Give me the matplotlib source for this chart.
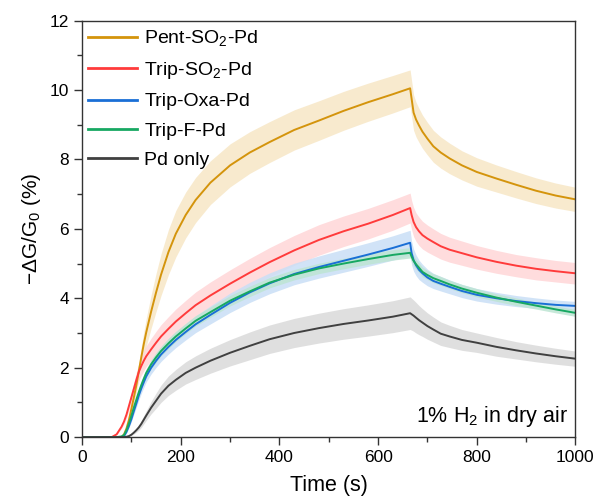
import matplotlib
matplotlib.use("Agg")
import matplotlib.pyplot as plt
from matplotlib.ticker import MultipleLocator
import numpy as np

plt.rcParams['font.family'] = ['Liberation Sans', 'DejaVu Sans']
plt.rcParams['mathtext.fontset'] = 'custom'
plt.rcParams['mathtext.rm'] = 'Liberation Sans'
plt.rcParams['mathtext.it'] = 'Liberation Sans:italic'
plt.rcParams['mathtext.bf'] = 'Liberation Sans:bold'

time_s = [0, 60, 70, 80, 85, 90, 95, 100, 105, 110, 115, 120, 125, 130, 140, 150, 160, 175, 190, 210,
          230, 260, 300, 340, 380, 430, 480, 530, 580, 630, 665,
          668, 672, 677, 683, 690, 700, 712, 727, 745, 770, 800, 840, 880, 920, 960, 1000]

labels = ["Pent-SO$_2$-Pd", "Trip-SO$_2$-Pd", "Trip-Oxa-Pd", "Trip-F-Pd", "Pd only"]

pent_so2 = [0, 0, 0, 0, 0.08, 0.25, 0.5, 0.82, 1.15, 1.5, 1.9, 2.3, 2.68, 3.02, 3.62, 4.17, 4.68, 5.33, 5.86, 6.4,
            6.83, 7.33, 7.83, 8.2, 8.5, 8.85, 9.12, 9.4, 9.65, 9.88, 10.05,
            9.75, 9.35, 9.15, 8.98, 8.8, 8.6, 8.38, 8.2, 8.03, 7.83, 7.64, 7.45, 7.27, 7.1, 6.96, 6.85]
trip_so2 = [0, 0, 0.08, 0.3, 0.45, 0.65, 0.9, 1.15, 1.4, 1.65, 1.88, 2.05, 2.2, 2.33, 2.53, 2.72, 2.9, 3.12, 3.33, 3.57,
            3.8, 4.08, 4.42, 4.74, 5.04, 5.38, 5.68, 5.93, 6.15, 6.4, 6.6,
            6.4, 6.2, 6.05, 5.93, 5.82, 5.72, 5.62, 5.5, 5.4, 5.3, 5.18, 5.05, 4.94, 4.85, 4.78, 4.72]
trip_oxa = [0, 0, 0, 0, 0.03, 0.15, 0.32, 0.52, 0.75, 0.97, 1.2, 1.4, 1.58, 1.75, 2.0, 2.2, 2.38, 2.6, 2.8, 3.03,
            3.25, 3.52, 3.87, 4.17, 4.43, 4.7, 4.9, 5.08, 5.26, 5.45, 5.6,
            5.3, 5.1, 4.95, 4.82, 4.72, 4.6, 4.5, 4.42, 4.33, 4.21, 4.1, 4.0, 3.92, 3.86, 3.81, 3.78]
trip_f = [0, 0, 0, 0.02, 0.06, 0.2, 0.4, 0.62, 0.86, 1.08, 1.3, 1.5, 1.68, 1.85, 2.1, 2.3, 2.48, 2.7, 2.9, 3.13,
          3.35, 3.6, 3.93, 4.2, 4.45, 4.68, 4.86, 5.0, 5.13, 5.25, 5.31,
          5.2, 5.08, 4.98, 4.88, 4.76, 4.67, 4.58, 4.5, 4.4, 4.28, 4.16, 4.02, 3.9, 3.79, 3.68, 3.58]
pd_only = [0, 0, 0, 0, 0, 0.01, 0.03, 0.07, 0.13, 0.2, 0.28, 0.38, 0.5, 0.62, 0.85, 1.05, 1.25, 1.48, 1.65, 1.85,
           2.0, 2.2, 2.43, 2.63, 2.82, 3.0, 3.14, 3.26, 3.36, 3.47, 3.57,
           3.54, 3.5, 3.44, 3.37, 3.3, 3.2, 3.1, 2.98, 2.9, 2.8, 2.72, 2.6, 2.5, 2.41, 2.33, 2.26]

pent_err = [0, 0, 0, 0, 0.02, 0.05, 0.08, 0.12, 0.15, 0.2, 0.25, 0.3, 0.35, 0.4, 0.48, 0.55, 0.6, 0.65, 0.67, 0.66,
            0.65, 0.63, 0.62, 0.6, 0.59, 0.58, 0.57, 0.56, 0.55, 0.54, 0.53,
            0.52, 0.51, 0.5, 0.49, 0.48, 0.47, 0.46, 0.45, 0.44, 0.42, 0.41, 0.39, 0.38, 0.37, 0.36, 0.35]
trip_so2_err = [0, 0, 0.02, 0.05, 0.07, 0.1, 0.13, 0.16, 0.19, 0.22, 0.25, 0.27, 0.29, 0.3, 0.32, 0.33, 0.34, 0.35, 0.36, 0.37,
                0.38, 0.39, 0.4, 0.41, 0.42, 0.43, 0.44, 0.44, 0.44, 0.44, 0.43,
                0.42, 0.42, 0.41, 0.41, 0.4, 0.39, 0.38, 0.37, 0.36, 0.35, 0.34, 0.33, 0.32, 0.32, 0.31, 0.31]
trip_oxa_err = [0, 0, 0, 0, 0.01, 0.03, 0.05, 0.07, 0.09, 0.11, 0.13, 0.14, 0.15, 0.16, 0.18, 0.19, 0.2, 0.21, 0.22, 0.23,
                0.24, 0.26, 0.28, 0.29, 0.3, 0.31, 0.32, 0.33, 0.34, 0.35, 0.36,
                0.34, 0.32, 0.3, 0.28, 0.26, 0.24, 0.22, 0.21, 0.2, 0.19, 0.18, 0.17, 0.16, 0.15, 0.14, 0.13]
trip_f_err = [0, 0, 0, 0, 0.01, 0.02, 0.04, 0.06, 0.08, 0.09, 0.1, 0.11, 0.12, 0.12, 0.13, 0.14, 0.14, 0.15, 0.15, 0.15,
              0.15, 0.15, 0.15, 0.15, 0.15, 0.15, 0.15, 0.15, 0.15, 0.15, 0.15,
              0.15, 0.15, 0.14, 0.14, 0.14, 0.13, 0.13, 0.13, 0.12, 0.12, 0.12, 0.11, 0.11, 0.1, 0.1, 0.1]
pd_err = [0, 0, 0, 0, 0, 0, 0.01, 0.02, 0.04, 0.06, 0.08, 0.1, 0.12, 0.14, 0.18, 0.22, 0.25, 0.28, 0.3, 0.32,
          0.34, 0.36, 0.38, 0.4, 0.41, 0.42, 0.43, 0.44, 0.45, 0.46, 0.47,
          0.46, 0.45, 0.44, 0.42, 0.4, 0.38, 0.36, 0.34, 0.32, 0.3, 0.28, 0.27, 0.25, 0.24, 0.23, 0.22]

series = [pent_so2, trip_so2, trip_oxa, trip_f, pd_only]
errors = [pent_err, trip_so2_err, trip_oxa_err, trip_f_err, pd_err]
for s_, e_ in zip(series, errors):
    assert len(s_) == len(time_s) and len(e_) == len(time_s), (len(s_), len(e_))

line_colors = ["#D4940C", "#FF3B3B", "#1A6FD6", "#17A862", "#404040"]
band_colors = ["#F7E7C6", "#FFD6D8", "#C9DFF6", "#BDE5D3", "#DADADA"]

fig = plt.figure(figsize=(5.95, 5.03), dpi=100)
ax = fig.add_axes([0.138, 0.131, 0.829, 0.828])

t = np.array(time_s)
for y, e, bc in zip(series, errors, band_colors):
    y = np.array(y); e = np.array(e)
    ax.fill_between(t, y - e, y + e, color=bc, alpha=0.85, lw=0)
for y, lc, lab in zip(series, line_colors, labels):
    ax.plot(t, y, color=lc, lw=1.4, label=lab)

ax.set_xlim(0, 1000)
ax.set_ylim(0, 12)
ax.xaxis.set_major_locator(MultipleLocator(200))
ax.xaxis.set_minor_locator(MultipleLocator(100))
ax.yaxis.set_major_locator(MultipleLocator(2))
ax.yaxis.set_minor_locator(MultipleLocator(1))
ax.tick_params(which='both', direction='out', top=False, right=False, labelsize=12.5, color='#333333')
ax.tick_params(which='major', length=6, width=1.0)
ax.tick_params(which='minor', length=3.5, width=1.0)
for s in ax.spines.values():
    s.set_linewidth(1.0)
    s.set_color('#333333')

ax.set_xlabel("Time (s)", fontsize=15.5, labelpad=7)
ax.set_ylabel("−ΔG/G$_0$ (%)", fontsize=15, labelpad=5)

ax.text(0.985, 0.02, "1% H$_2$ in dry air", transform=ax.transAxes, ha='right', va='bottom', fontsize=15.5)

leg = ax.legend(loc='upper left', frameon=False, fontsize=14, handlelength=2.5, handletextpad=0.4,
                labelspacing=0.6, borderaxespad=0.0, bbox_to_anchor=(-0.004, 1.0))
for h in leg.get_lines():
    h.set_linewidth(2.0)

fig.savefig("out.png", dpi=100)
